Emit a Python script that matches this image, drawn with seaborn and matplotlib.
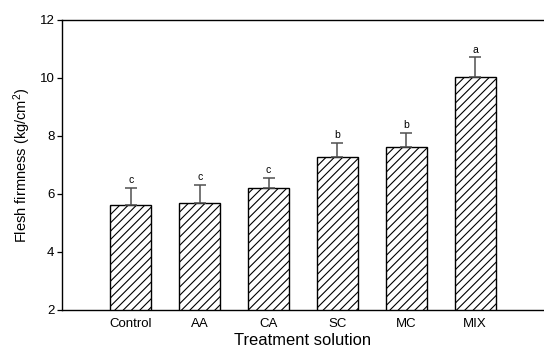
import matplotlib
matplotlib.use("Agg")
import matplotlib.pyplot as plt
import seaborn as sns
import pandas as pd

# Flesh firmness by treatment solution
treatments = ["Control", "AA", "CA", "SC", "MC", "MIX"]
firmness = [5.62, 5.70, 6.20, 7.28, 7.62, 10.02]
std_err = [0.58, 0.60, 0.36, 0.47, 0.47, 0.69]
letters = ["c", "c", "c", "b", "b", "a"]
y_ticks = [2, 4, 6, 8, 10, 12]

sns.set_style("white")
plt.rcParams["font.family"] = ["Liberation Sans", "DejaVu Sans"]
plt.rcParams["mathtext.default"] = "regular"
plt.rcParams["hatch.linewidth"] = 0.8
plt.rcParams["text.color"] = "black"
plt.rcParams["axes.labelcolor"] = "black"
plt.rcParams["xtick.color"] = "black"
plt.rcParams["ytick.color"] = "black"

df = pd.DataFrame({"treatment": treatments, "firmness": firmness})

fig = plt.figure(figsize=(5.44, 3.51), dpi=100)
ax = fig.add_axes([62 / 544, 1 - 310 / 351, (544 - 62) / 544, 290 / 351])

sns.barplot(data=df, x="treatment", y="firmness", order=treatments,
            color="white", edgecolor="black", linewidth=1.0,
            width=0.595, errorbar=None, ax=ax)
for patch in ax.patches:
    patch.set_hatch("////")
    patch.set_facecolor("white")

xs = range(len(treatments))
ax.errorbar(xs, firmness, yerr=[[0] * len(std_err), std_err], fmt="none",
            ecolor="#505050", elinewidth=1.1, capsize=4, capthick=1.1, zorder=3)
for x, v, e, t in zip(xs, firmness, std_err, letters):
    ax.text(x, v + e + 0.1, t, ha="center", va="bottom", fontsize=7.5, color="black")

ax.set_xlim(-1, 6)
ax.set_ylim(2, 12)
ax.set_yticks(y_ticks)
ax.set_yticklabels([str(t) for t in y_ticks])
ax.tick_params(axis="y", direction="out", length=3.5, width=0.9, labelsize=9.5,
               pad=2, left=True, colors="black")
ax.tick_params(axis="x", length=0, labelsize=9.5, pad=6, colors="black")

for side in ["left", "bottom", "top"]:
    ax.spines[side].set_color("black")
    ax.spines[side].set_linewidth(1.0)
ax.spines["right"].set_visible(False)

ax.set_xlabel("Treatment solution", fontsize=11.9, labelpad=2)
ax.set_ylabel("Flesh firmness (kg/cm$^2$)", fontsize=10.5, labelpad=5)

fig.savefig("out.png", dpi=100)
